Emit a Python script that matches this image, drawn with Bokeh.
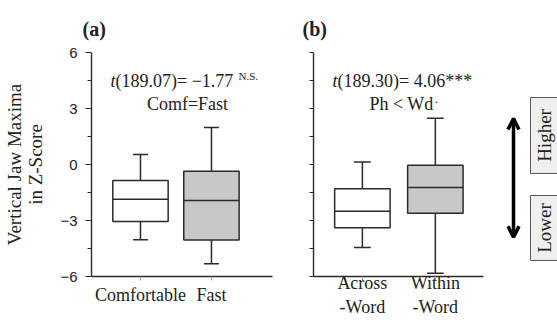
import math
from bokeh.plotting import figure
from bokeh.models import Range1d, FixedTicker, Label, Arrow, OpenHead
from bokeh.layouts import row
from bokeh.embed import file_html
from bokeh.resources import INLINE

# ---------------- data ----------------
positions = [1, 2]

cats_a = ["Comfortable", "Fast"]
whisk_lo_a = [-4.03, -5.32]
q1_a = [-3.05, -4.05]
med_a = [-1.86, -1.93]
q3_a = [-0.86, -0.36]
whisk_hi_a = [0.54, 1.98]

cats_b = ["Across\n-Word", "Within\n-Word"]
whisk_lo_b = [-4.45, -5.82]
q1_b = [-3.39, -2.61]
med_b = [-2.50, -1.23]
q3_b = [-1.30, -0.04]
whisk_hi_b = [0.14, 2.48]

box_fills = ["white", "#c8c8c8"]

y_major = [-6, -3, 0, 3, 6]
y_minor = [-4.5, -1.5, 1.5, 4.5]
y_all = [-6, -4.5, -3, -1.5, 0, 1.5, 3, 4.5, 6]
y_title = "Vertical Jaw Maxima\nin Z-Score"

stat_a = ["t", "(189.07)= \u22121.77", "N.S."]
note_a = "Comf=Fast"
stat_b = ["t", "(189.30)= 4.06***"]
note_b = "Ph < Wd"

scale_labels = ["Higher", "Lower"]
scale_box_top = [3.59, -1.66]
scale_box_bottom = [-0.48, -5.14]
scale_arrow = [2.46, -3.90]

# ---------------- style ----------------
SERIF = "Liberation Serif"
SANS = "Liberation Sans"
INK = "#222222"
LINE = "#2b2b2b"
H = 320
TOP, BOTTOM = 52, 44


def base_fig(width, xr, ml, mr, panel, title_offset):
    p = figure(width=width, height=H, x_range=Range1d(*xr), y_range=Range1d(-6, 6),
               output_backend="svg", toolbar_location=None,
               min_border_left=ml, min_border_right=mr,
               min_border_top=TOP, min_border_bottom=BOTTOM, title=panel)
    p.title.text_font = SERIF
    p.title.text_font_size = "20px"
    p.title.text_font_style = "bold"
    p.title.text_color = INK
    p.title.align = "left"
    p.title.offset = title_offset
    p.title.standoff = 26
    p.outline_line_color = None
    p.xgrid.visible = False
    p.ygrid.visible = False
    p.background_fill_color = "white"
    p.border_fill_color = "white"
    p.xaxis.ticker = FixedTicker(ticks=positions, minor_ticks=[])
    p.xaxis.major_label_text_font = SERIF
    p.xaxis.major_label_text_font_size = "18px"
    p.xaxis.major_label_text_color = INK
    p.xaxis.major_tick_out = 4
    p.xaxis.major_tick_in = 0
    p.xaxis.major_tick_line_color = "#999999"
    p.xaxis.axis_line_color = LINE
    p.xaxis.axis_line_width = 1.4
    p.yaxis.axis_line_color = LINE
    p.yaxis.axis_line_width = 1.4
    p.yaxis.major_tick_line_color = LINE
    p.yaxis.minor_tick_line_color = LINE
    p.yaxis.major_tick_in = 0
    p.yaxis.minor_tick_in = 0
    return p


def draw_boxes(p, lo, q1, med, q3, hi, width, capw):
    p.quad(left=[x - width / 2 for x in positions], right=[x + width / 2 for x in positions],
           bottom=q1, top=q3, fill_color=box_fills, line_color=LINE, line_width=1.5)
    p.segment(x0=positions, x1=positions, y0=q3, y1=hi, line_color=LINE, line_width=1.5)
    p.segment(x0=positions, x1=positions, y0=q1, y1=lo, line_color=LINE, line_width=1.5)
    p.segment(x0=[x - capw / 2 for x in positions], x1=[x + capw / 2 for x in positions],
              y0=hi, y1=hi, line_color=LINE, line_width=1.5)
    p.segment(x0=[x - capw / 2 for x in positions], x1=[x + capw / 2 for x in positions],
              y0=lo, y1=lo, line_color=LINE, line_width=1.5)
    p.segment(x0=[x - width / 2 for x in positions], x1=[x + width / 2 for x in positions],
              y0=med, y1=med, line_color=LINE, line_width=1.5)


def lab(p, text, x, y, xo=0, yo=0, size=18, style="normal", align="left",
        baseline="middle", angle=0.0, font=SERIF):
    p.add_layout(Label(x=x, y=y, x_offset=xo, y_offset=yo, text=text,
                       text_font=font, text_font_size=f"{size}px",
                       text_font_style=style, text_align=align,
                       text_baseline=baseline, text_color=INK, angle=angle))


# ---------------- panel (a) ----------------
pa = base_fig(300, (0.31, 2.86), 91, 28, "(a)", -9)
pa.yaxis.ticker = FixedTicker(ticks=y_major, minor_ticks=y_minor)
pa.yaxis.major_tick_out = 6
pa.yaxis.minor_tick_out = 4
pa.yaxis.major_label_standoff = 8
pa.yaxis.major_label_text_font = SANS
pa.yaxis.major_label_text_font_size = "15px"
pa.yaxis.major_label_text_color = INK
pa.yaxis.axis_label = y_title
pa.yaxis.axis_label_text_font = SERIF
pa.yaxis.axis_label_text_font_size = "19px"
pa.yaxis.axis_label_text_font_style = "normal"
pa.yaxis.axis_label_text_line_height = 1.0
pa.yaxis.axis_label_text_color = INK
pa.yaxis.axis_label_standoff = 11
pa.xaxis.major_label_overrides = {x: c for x, c in zip(positions, cats_a)}
pa.xaxis.major_label_standoff = 4
draw_boxes(pa, whisk_lo_a, q1_a, med_a, q3_a, whisk_hi_a, 0.78, 0.21)

x0a = pa.x_range.start
lab(pa, stat_a[0], x0a, 6, xo=19, yo=-28, style="italic")
lab(pa, stat_a[1], x0a, 6, xo=24, yo=-28)
lab(pa, stat_a[2], x0a, 6, xo=147, yo=-23, size=11)
lab(pa, note_a, x0a, 6, xo=96, yo=-51, align="center")

# ---------------- panel (b) ----------------
pb = base_fig(190, (0.33, 2.66), 13, 7, "(b)", -11)
pb.yaxis.ticker = FixedTicker(ticks=y_all, minor_ticks=[])
pb.yaxis.major_tick_out = 4
pb.yaxis.major_label_overrides = {v: "" for v in y_all}
pb.xaxis.major_label_overrides = {x: c for x, c in zip(positions, cats_b)}
pb.xaxis.major_label_standoff = -8
draw_boxes(pb, whisk_lo_b, q1_b, med_b, q3_b, whisk_hi_b, 0.76, 0.23)

x0b = pb.x_range.start
lab(pb, stat_b[0], x0b, 6, xo=19, yo=-28, style="italic")
lab(pb, stat_b[1], x0b, 6, xo=24, yo=-28)
lab(pb, note_b, x0b, 6, xo=88, yo=-51, align="center")
lab(pb, "\u00b7", x0b, 6, xo=121, yo=-49, size=12)

# ---------------- scale direction panel ----------------
pc = figure(width=67, height=H, x_range=Range1d(0, 67), y_range=Range1d(-6, 6),
            output_backend="svg", toolbar_location=None,
            x_axis_location=None, y_axis_location=None,
            min_border_left=0, min_border_right=0,
            min_border_top=TOP, min_border_bottom=BOTTOM)
pc.outline_line_color = None
pc.xgrid.visible = False
pc.ygrid.visible = False
pc.quad(left=[40, 40], right=[100, 100], top=scale_box_top, bottom=scale_box_bottom,
        fill_color="#efefef", line_color="#555555", line_width=1)
pc.add_layout(Arrow(x_start=23, y_start=scale_arrow[1], x_end=23, y_end=scale_arrow[0],
                    line_width=3.5, line_color="black",
                    start=OpenHead(size=11, line_width=3.5, line_color="black"),
                    end=OpenHead(size=11, line_width=3.5, line_color="black")))
for t, tp, bt in zip(scale_labels, scale_box_top, scale_box_bottom):
    lab(pc, t, 54, (tp + bt) / 2, angle=math.pi / 2, align="center", size=19)

layout = row(pa, pb, pc)
open("out.html", "w").write(file_html(layout, INLINE))
